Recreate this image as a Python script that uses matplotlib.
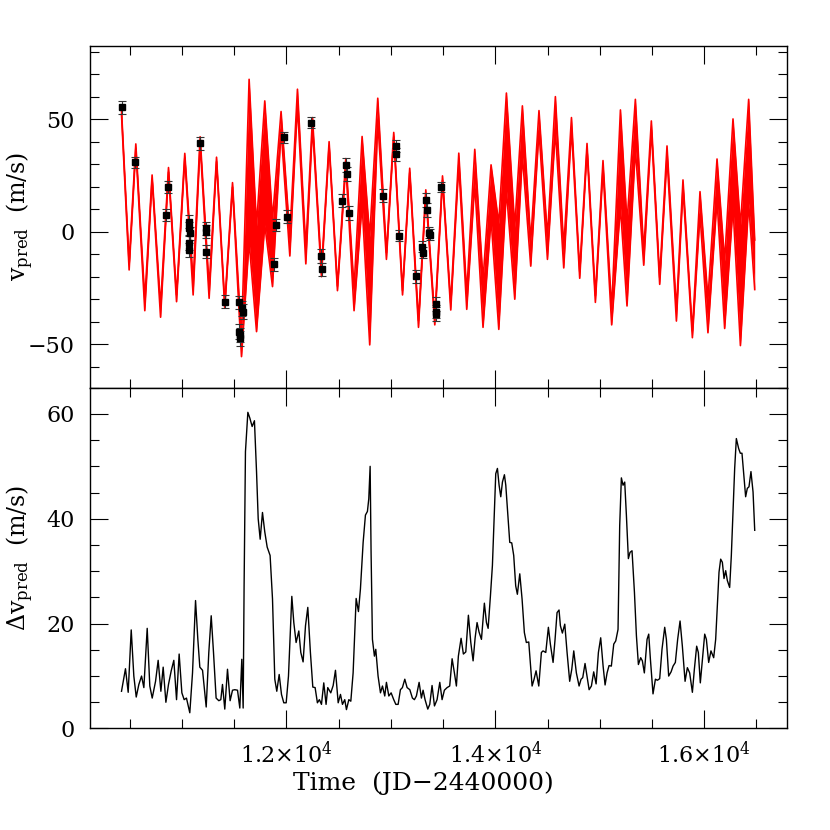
import numpy as np
import matplotlib
matplotlib.use("Agg")
import matplotlib.pyplot as plt
from matplotlib.ticker import MultipleLocator, FuncFormatter

plt.rcParams['font.family'] = ['DejaVu Serif']
plt.rcParams['mathtext.fontset'] = 'dejavuserif'

# --- predicted velocity curve: turning points (time, value) and band depth there
ext_t = [10420, 10493, 10557, 10643, 10713, 10794, 10870, 10947, 11026, 11106,
         11173, 11259, 11330, 11409, 11483, 11569, 11642, 11713, 11792, 11866,
         11948, 12032, 12105, 12185, 12249, 12335, 12408, 12488, 12568, 12647,
         12724, 12797, 12874, 12957, 13027, 13111, 13180, 13264, 13334, 13420,
         13494, 13573, 13650, 13726, 13803, 13882, 13959, 14033, 14106, 14186,
         14259, 14339, 14418, 14499, 14575, 14655, 14729, 14808, 14878, 14958,
         15031, 15114, 15198, 15261, 15341, 15421, 15494, 15574, 15644, 15734,
         15797, 15887, 15960, 16036, 16123, 16196, 16276, 16347, 16426, 16484]
ext_v = [54.2, -16.9, 39.1, -35.0, 25.3, -37.9, 28.6, -31.0, 34.9, -28.0,
         42.3, -29.5, 33.2, -33.9, 21.9, -55.4, 67.8, -44.3, 58.2, -24.3,
         53.5, -10.7, 63.4, -14.2, 50.8, -19.9, 40.1, -26.1, 32.6, -35.0,
         42.4, -50.2, 59.4, -12.2, 44.2, -28.0, 28.3, -42.4, 18.7, -41.3,
         24.9, -34.7, 35.0, -34.4, 36.7, -42.4, 29.8, -43.3, 61.7, -29.9,
         56.0, -15.2, 53.9, -12.2, 60.1, -16.0, 50.8, -20.6, 39.3, -31.3,
         31.7, -41.3, 54.2, -32.9, 58.9, -14.8, 49.3, -23.3, 38.2, -39.6,
         23.1, -47.0, 17.9, -44.8, 32.4, -42.9, 50.2, -50.5, 58.9, -25.6]
ext_depth = [2, 3, 2, 5, 2, 5, 2, 3, 2, 6,
             3, 5, 2, 2, 2, 8, 72, 47, 55, 30,
             8, 9, 7, 7, 4, 3, 2, 2, 3, 10,
             30, 48, 10, 3, 2, 2, 2, 3, 2, 3,
             2, 3, 5, 7, 15, 21, 24, 47, 43, 32,
             22, 11, 9, 10, 15, 9, 5, 3, 3, 3,
             4, 7, 43, 37, 22, 6, 4, 3, 5, 5,
             4, 3, 10, 15, 18, 30, 39, 53, 46, 22]

# --- observed radial velocities
obs_t = [10420, 10548, 10842, 10861, 11069, 11071, 11073, 11071, 11069, 11173,
         11225, 11227, 11230, 11409, 11543, 11548, 11550, 11552, 11577, 11580,
         11881, 11900, 11974, 12006, 12239, 12335, 12336, 12536, 12574, 12576,
         12599, 12925, 13044, 13046, 13075, 13241, 13301, 13303, 13340, 13341,
         13368, 13370, 13429, 13430, 13431, 13484]
obs_v = [55.3, 31.0, 7.6, 20.1, 4.6, 1.6, -0.6, -5.0, -8.0, 39.4,
         1.6, 0.1, -8.7, -31.0, -31.3, -44.3, -45.8, -47.3, -34.0, -35.4,
         -14.4, 3.1, 42.1, 6.8, 48.6, -10.7, -16.6, 13.9, 29.8, 25.8,
         8.3, 16.1, 38.2, 34.5, -1.6, -19.7, -6.5, -9.2, 14.2, 9.8,
         -0.3, -1.3, -32.0, -35.4, -36.4, 19.9]
obs_err = [2.7, 2.5, 2.8, 2.6, 3.0, 3.0, 3.0, 3.0, 3.0, 2.8,
           3.0, 3.0, 3.0, 2.8, 3.0, 3.2, 3.2, 3.2, 3.2, 3.2,
           2.8, 2.8, 2.5, 2.8, 2.6, 3.0, 3.0, 2.8, 3.0, 3.0,
           3.0, 2.8, 2.8, 2.8, 2.5, 2.8, 2.6, 2.6, 3.0, 3.0,
           2.5, 2.5, 3.0, 3.0, 3.0, 2.2]

# --- spread of the predictions
dv_t = [10420, 10458, 10484, 10513, 10538, 10561, 10586, 10612, 10634, 10666,
        10691, 10714, 10746, 10771, 10797, 10819, 10845, 10870, 10896, 10921,
        10947, 10972, 10998, 11020, 11042, 11074, 11100, 11129, 11151, 11170,
        11196, 11231, 11256, 11279, 11301, 11326, 11352, 11371, 11387, 11409,
        11435, 11460, 11483, 11505, 11531, 11553, 11572, 11585, 11594, 11607,
        11630, 11649, 11671, 11693, 11713, 11729, 11748, 11770, 11792, 11815,
        11843, 11866, 11888, 11907, 11930, 11952, 11974, 11997, 12019, 12051,
        12070, 12092, 12118, 12137, 12159, 12182, 12204, 12229, 12252, 12274,
        12296, 12315, 12335, 12357, 12379, 12395, 12424, 12447, 12469, 12495,
        12517, 12536, 12558, 12574, 12597, 12616, 12638, 12667, 12689, 12708,
        12734, 12756, 12775, 12788, 12801, 12810, 12823, 12842, 12855, 12877,
        12900, 12919, 12941, 12957, 12980, 13002, 13027, 13047, 13069, 13091,
        13110, 13133, 13155, 13181, 13206, 13225, 13244, 13270, 13292, 13308,
        13327, 13353, 13372, 13394, 13417, 13442, 13468, 13490, 13512, 13538,
        13563, 13586, 13608, 13627, 13646, 13672, 13694, 13717, 13742, 13765,
        13787, 13806, 13825, 13844, 13867, 13895, 13915, 13931, 13953, 13972,
        13988, 14004, 14020, 14036, 14052, 14068, 14087, 14100, 14122, 14138,
        14157, 14176, 14195, 14211, 14234, 14256, 14278, 14297, 14320, 14352,
        14371, 14390, 14416, 14441, 14457, 14483, 14508, 14527, 14553, 14572,
        14591, 14610, 14623, 14642, 14665, 14687, 14712, 14732, 14751, 14776,
        14802, 14821, 14837, 14859, 14878, 14898, 14920, 14942, 14965, 14987,
        15009, 15032, 15051, 15070, 15089, 15111, 15134, 15153, 15175, 15191,
        15207, 15223, 15239, 15255, 15274, 15290, 15309, 15332, 15351, 15370,
        15392, 15408, 15427, 15453, 15469, 15485, 15510, 15533, 15552, 15574,
        15596, 15622, 15638, 15660, 15683, 15702, 15724, 15746, 15769, 15791,
        15817, 15839, 15861, 15887, 15906, 15928, 15944, 15963, 15983, 16005,
        16021, 16043, 16065, 16091, 16110, 16126, 16142, 16158, 16174, 16190,
        16206, 16222, 16244, 16260, 16276, 16292, 16308, 16330, 16346, 16362,
        16378, 16397, 16413, 16429, 16448, 16468, 16484]
dv = [7.1, 11.4, 6.9, 18.8, 10.0, 6.0, 8.4, 10.0, 7.8, 19.1,
      8.1, 5.8, 9.0, 13.0, 7.1, 11.7, 5.0, 8.4, 11.0, 13.0,
      5.5, 14.2, 6.8, 5.5, 5.8, 3.0, 10.6, 24.4, 17.0, 11.7,
      11.1, 4.1, 14.5, 21.5, 14.5, 5.8, 5.3, 5.5, 8.4, 3.7,
      11.3, 5.3, 7.3, 7.4, 7.3, 3.9, 13.2, 3.9, 27.2, 52.8,
      60.3, 59.2, 57.6, 58.7, 49.0, 40.0, 36.1, 41.2, 37.5, 34.6,
      33.0, 24.7, 9.4, 7.1, 10.3, 6.5, 4.9, 4.9, 10.0, 25.2,
      20.2, 16.4, 18.6, 14.5, 12.7, 19.6, 23.1, 14.5, 7.9, 7.8,
      4.9, 5.5, 4.6, 8.7, 4.6, 7.8, 6.8, 8.2, 11.1, 4.9,
      6.5, 4.6, 5.5, 3.6, 5.5, 5.2, 10.6, 24.8, 22.3, 26.6,
      35.5, 40.7, 41.4, 43.8, 50.0, 33.6, 17.0, 13.8, 15.1, 10.0,
      6.8, 8.1, 6.2, 8.8, 6.2, 6.8, 5.5, 4.6, 4.6, 7.4,
      7.8, 9.4, 7.8, 7.4, 5.8, 5.5, 6.2, 8.8, 5.8, 7.3,
      5.5, 3.7, 4.6, 8.2, 4.3, 5.5, 8.8, 5.5, 7.3, 7.8,
      8.1, 13.3, 10.6, 8.1, 13.8, 17.2, 14.2, 14.6, 21.6, 16.4,
      12.9, 17.2, 20.2, 18.4, 17.0, 23.9, 20.2, 19.1, 25.3, 31.1,
      40.0, 48.6, 49.6, 46.4, 44.2, 47.0, 48.4, 46.4, 40.0, 35.5,
      35.4, 33.0, 27.2, 25.6, 29.5, 24.7, 18.3, 16.4, 16.5, 8.1,
      9.4, 11.0, 8.1, 14.5, 14.8, 14.5, 19.3, 16.1, 12.6, 17.0,
      22.1, 22.6, 19.6, 18.2, 19.9, 14.5, 9.0, 11.3, 14.8, 10.6,
      8.1, 9.4, 9.7, 12.4, 10.0, 7.4, 8.1, 10.8, 8.5, 14.5,
      17.3, 11.9, 8.3, 10.6, 12.0, 11.9, 16.1, 16.7, 18.9, 38.7,
      47.8, 46.4, 47.0, 40.7, 32.4, 33.6, 33.9, 26.0, 17.7, 12.2,
      13.5, 12.9, 10.6, 17.0, 18.0, 13.2, 6.6, 9.4, 9.2, 9.5,
      15.1, 19.3, 17.0, 10.0, 10.8, 11.9, 12.6, 17.0, 20.5, 15.7,
      9.0, 11.6, 10.6, 6.9, 11.3, 15.7, 14.5, 8.7, 13.2, 18.0,
      17.0, 12.6, 14.8, 13.5, 17.0, 23.4, 29.8, 32.3, 31.7, 28.6,
      30.1, 28.2, 26.9, 33.0, 41.3, 49.6, 55.3, 53.4, 52.5, 52.5,
      48.6, 44.2, 45.8, 46.1, 49.0, 45.1, 37.8]

x_ticks = [12000, 14000, 16000]


def style_axis(ax):
    ax.tick_params(which='both', direction='in', top=True, right=True,
                   width=0.8, colors='black', labelsize=16, pad=11)
    ax.tick_params(which='major', length=13)
    ax.tick_params(which='minor', length=6.5)
    ax.tick_params(axis='x', pad=9)
    for sp in ax.spines.values():
        sp.set_linewidth(1.0)
    ax.set_xlim(10118, 16790)
    ax.set_xticks(x_ticks)
    ax.xaxis.set_minor_locator(MultipleLocator(500))


fig = plt.figure(figsize=(8.3, 8.3), dpi=100)
ax1 = fig.add_axes([0.1084, 0.5329, 0.8394, 0.4117])
ax2 = fig.add_axes([0.1084, 0.1223, 0.8394, 0.4106])

# top panel: band of predicted curves + the data
ext_t = np.array(ext_t)
ext_v = np.array(ext_v)
ext_depth = np.array(ext_depth)
is_peak = np.arange(len(ext_t)) % 2 == 0
band_hi = np.where(is_peak, ext_v, ext_v + ext_depth)
band_lo = np.where(is_peak, ext_v - ext_depth, ext_v)
ax1.fill_between(ext_t, band_lo, band_hi, color='red', linewidth=0)
ax1.plot(ext_t, band_hi, color='red', lw=1.2)
ax1.plot(ext_t, band_lo, color='red', lw=1.2)

ax1.errorbar(obs_t, obs_v, yerr=obs_err, fmt='s', color='black', ms=4.5,
             ecolor='0.2', elinewidth=0.8, capsize=3, capthick=0.8, zorder=3)

style_axis(ax1)
ax1.set_ylim(-69.2, 82.6)
ax1.yaxis.set_major_locator(MultipleLocator(50))
ax1.yaxis.set_minor_locator(MultipleLocator(10))
ax1.tick_params(axis='x', labelbottom=False)
ax1.set_ylabel(r'$\mathrm{v}_{\mathrm{pred}}$  (m/s)', fontsize=17)
ax1.yaxis.set_label_coords(-0.078, 0.5)

# bottom panel: spread of the predictions
ax2.plot(dv_t, dv, color='black', lw=1.0)
style_axis(ax2)
ax2.set_ylim(0, 65)
ax2.yaxis.set_major_locator(MultipleLocator(20))
ax2.yaxis.set_minor_locator(MultipleLocator(5))
ax2.xaxis.set_major_formatter(FuncFormatter(
    lambda x, pos: r'$%.1f{\times}10^{4}$' % (x / 1e4)))
ax2.set_ylabel(r'$\Delta\mathrm{v}_{\mathrm{pred}}$  (m/s)', fontsize=17)
ax2.yaxis.set_label_coords(-0.078, 0.5)
ax2.set_xlabel('Time  (JD\u22122440000)', fontsize=18)
ax2.xaxis.set_label_coords(0.479, -0.125)

fig.savefig('out.png', dpi=100)
